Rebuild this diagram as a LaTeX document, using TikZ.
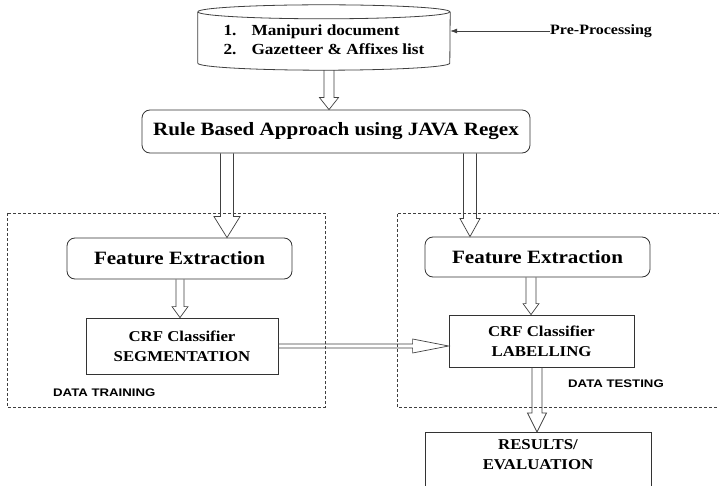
\documentclass[tikz,border=0pt]{standalone}
\usepackage{fontspec}
\setmainfont{Liberation Serif}[FakeStretch=1.12]
\newfontfamily\labsans{Liberation Sans}[FakeStretch=1.2]
\usetikzlibrary{calc,arrows.meta}
\newcommand\hollowarrow[5]{%
  \path (#4) coordinate (ha) (#5) coordinate (hb);
  \coordinate (hc) at ($(hb)!#3!(ha)$);
  \draw[arrline] ($(ha)!#1!90:(hb)$) -- ($(hc)!#1!90:(hb)$) -- ($(hc)!#2!90:(hb)$) -- (hb)
    -- ($(hc)!#2!-90:(hb)$) -- ($(hc)!#1!-90:(hb)$) -- ($(ha)!#1!-90:(hb)$);
}
\begin{document}
\begin{tikzpicture}[x=1pt,y=-1pt,
  box/.style={draw=black!80, line width=0.8pt, inner sep=0pt, align=center, font=\bfseries},
  rbox/.style={box, rounded corners=8pt},
  arrline/.style={draw=black!75, line width=0.7pt, line join=miter},
  dashbox/.style={draw=black!75, line width=0.7pt, dash pattern=on 3pt off 2pt},
  sublabel/.style={font=\labsans\bfseries\fontsize{11}{13}\selectfont, inner sep=0pt, anchor=west}]
\useasboundingbox (0,0) rectangle (719,486);
\clip (0,0) rectangle (719,486);
\fill[white] (0,0) rectangle (719,486);

% cylinder (document store)
\node[inner sep=0pt, minimum width=252pt, minimum height=58pt, font=\bfseries\fontsize{15.4}{19}\selectfont] (cyl) at (324,41)
  {\begin{tabular}{@{}l@{\hspace{15pt}}l@{}}1. & Manipuri document\\ 2. & Gazetteer \& Affixes list\end{tabular}};
\draw[arrline, line width=0.8pt] (cyl.north west) arc[start angle=180, end angle=-180, x radius=126pt, y radius=7pt];
\draw[arrline, line width=0.8pt] (cyl.north west) -- ($(cyl.south west)+(0,-7)$)
  arc[start angle=180, end angle=360, x radius=126pt, y radius=7pt] -- (cyl.north east);

\node[inner sep=0pt, anchor=west, font=\bfseries\fontsize{14.3}{16}\selectfont] (pre) at (550,31) {Pre-Processing};
\draw[arrline, -{Latex[length=7pt,width=5pt]}] (pre.west) -- (pre.west -| cyl.east);

\node[rbox, minimum width=388pt, minimum height=43pt, font=\bfseries\fontsize{18.8}{22}\selectfont] (rule) at (336,131.5)
  {Rule Based Approach using JAVA Regex};

% dashed regions
\draw[dashbox] (7,213) rectangle (325,407);
\draw[dashbox] (721,213) -- (397,213) -- (397,407) -- (721,407);

\node[rbox, minimum width=225pt, minimum height=41pt, font=\bfseries\fontsize{18.8}{20}\selectfont] (fe1) at (179.5,258.5) {Feature Extraction};
\node[rbox, minimum width=225pt, minimum height=40pt, font=\bfseries\fontsize{18.8}{20}\selectfont] (fe2) at (537.5,257) {Feature Extraction};

\node[box, minimum width=192pt, minimum height=56pt, font=\bfseries\fontsize{15}{20}\selectfont] (seg) at (182,346) {CRF Classifier\\SEGMENTATION};
\node[box, minimum width=185pt, minimum height=52pt, font=\bfseries\fontsize{15}{20}\selectfont] (lab) at (541.5,341) {CRF Classifier\\LABELLING};

\node[box, anchor=north, minimum width=226pt, inner ysep=7pt, font=\bfseries\fontsize{15}{20}\selectfont] (res) at (538,432)
  {RESULTS/\\EVALUATION\rule[-30pt]{0pt}{0pt}};

\node[sublabel] (train) at (53,393) {DATA TRAINING};
\node[sublabel] (test) at (568,384) {DATA TESTING};

% hollow arrows
\coordinate (x0) at (329,0);
\coordinate (x1) at (227,0);
\coordinate (x2) at (470,0);
\coordinate (x3) at (180,0);
\coordinate (x4) at (531,0);
\coordinate (x5) at (537,0);
\hollowarrow{5pt}{9.5pt}{12pt}{cyl.south -| x0}{rule.north -| x0}
\hollowarrow{6.5pt}{13pt}{21pt}{rule.south -| x1}{fe1.north -| x1}
\hollowarrow{6.5pt}{10pt}{18pt}{rule.south -| x2}{fe2.north -| x2}
\hollowarrow{4pt}{8pt}{11pt}{fe1.south -| x3}{seg.north -| x3}
\hollowarrow{5pt}{8pt}{11pt}{fe2.south -| x4}{lab.north -| x4}
\hollowarrow{5pt}{9.5pt}{19pt}{lab.south -| x5}{res.north -| x5}
\hollowarrow{2pt}{7pt}{36pt}{seg.east}{seg.east -| lab.west}
\end{tikzpicture}
\end{document}
